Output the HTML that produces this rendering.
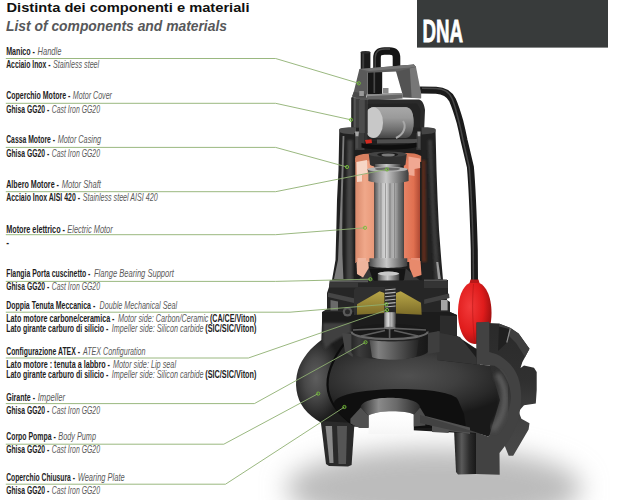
<!DOCTYPE html>
<html><head><meta charset="utf-8"><title>DNA - Distinta dei componenti e materiali</title>
<style>
html,body{margin:0;padding:0;background:#fff;}
body{width:618px;height:500px;overflow:hidden;font-family:"Liberation Sans",sans-serif;}
svg{display:block}
text{font-family:"Liberation Sans",sans-serif;}
.b{font-weight:bold;font-size:10.3px;fill:#1d1d1d;}
.i{font-style:italic;font-size:10.3px;fill:#5a5a5a;}
.t1{font-weight:bold;font-size:13.5px;fill:#111;}
.t2{font-weight:bold;font-style:italic;font-size:13.9px;fill:#57585a;}
.dna{font-weight:bold;font-size:32px;fill:#fff;stroke:#fff;stroke-width:0.8px;}
.lead polyline{fill:none;stroke:#8fb072;stroke-width:0.9;}
.lead circle{fill:none;stroke:#74c236;stroke-width:0.9;}
</style></head>
<body>
<svg width="618" height="500" viewBox="0 0 618 500">
<rect width="618" height="500" fill="#fff"/>
<defs>
  <filter id="blur10" x="-30%" y="-80%" width="160%" height="260%"><feGaussianBlur stdDeviation="13"/></filter>
  <filter id="blur2" x="-20%" y="-20%" width="140%" height="140%"><feGaussianBlur stdDeviation="2"/></filter>
  <filter id="blur1" x="-20%" y="-20%" width="140%" height="140%"><feGaussianBlur stdDeviation="1"/></filter>
  <filter id="blur05" x="-20%" y="-20%" width="140%" height="140%"><feGaussianBlur stdDeviation="0.5"/></filter>
  <linearGradient id="gCasing" x1="0" x2="1" y1="0" y2="0">
    <stop offset="0" stop-color="#161616"/>
    <stop offset="0.035" stop-color="#3a3a3a"/>
    <stop offset="0.06" stop-color="#8a8a8a"/>
    <stop offset="0.085" stop-color="#2c2c2c"/>
    <stop offset="0.12" stop-color="#1e1e1e"/>
    <stop offset="0.16" stop-color="#2a2a2a"/>
    <stop offset="0.8" stop-color="#222"/>
    <stop offset="0.9" stop-color="#2e2e2e"/>
    <stop offset="0.96" stop-color="#262626"/>
    <stop offset="1" stop-color="#141414"/>
  </linearGradient>
  <linearGradient id="gRotor" x1="0" x2="1" y1="0" y2="0">
    <stop offset="0" stop-color="#4e4e4e"/>
    <stop offset="0.1" stop-color="#8a8a8a"/>
    <stop offset="0.26" stop-color="#c4c4c4"/>
    <stop offset="0.4" stop-color="#d8d8d8"/>
    <stop offset="0.52" stop-color="#a0a0a0"/>
    <stop offset="0.66" stop-color="#b4b4b4"/>
    <stop offset="0.82" stop-color="#808080"/>
    <stop offset="1" stop-color="#484848"/>
  </linearGradient>
  <linearGradient id="gRing" x1="0" x2="1" y1="0" y2="0">
    <stop offset="0" stop-color="#4a4a4a"/>
    <stop offset="0.2" stop-color="#8c8c8c"/>
    <stop offset="0.45" stop-color="#c8c8c8"/>
    <stop offset="0.7" stop-color="#8a8a8a"/>
    <stop offset="1" stop-color="#3e3e3e"/>
  </linearGradient>
  <linearGradient id="gCopperL" x1="0" x2="1" y1="0" y2="0">
    <stop offset="0" stop-color="#d98a6c"/>
    <stop offset="0.5" stop-color="#f0a88a"/>
    <stop offset="1" stop-color="#e89878"/>
  </linearGradient>
  <linearGradient id="gCopperR" x1="0" x2="1" y1="0" y2="0">
    <stop offset="0" stop-color="#e88466"/>
    <stop offset="0.6" stop-color="#e07050"/>
    <stop offset="1" stop-color="#b04a34"/>
  </linearGradient>
  <linearGradient id="gCap" x1="0" x2="0" y1="0" y2="1">
    <stop offset="0" stop-color="#a8a8a8"/>
    <stop offset="0.35" stop-color="#9a9a9a"/>
    <stop offset="0.75" stop-color="#6c6c6c"/>
    <stop offset="1" stop-color="#444"/>
  </linearGradient>
  <linearGradient id="gCable" x1="0" x2="1" y1="0" y2="0">
    <stop offset="0" stop-color="#111"/>
    <stop offset="0.4" stop-color="#3c3c3c"/>
    <stop offset="1" stop-color="#0c0c0c"/>
  </linearGradient>
  <radialGradient id="gFloat" cx="0.35" cy="0.4" r="0.75">
    <stop offset="0" stop-color="#f23a3a"/>
    <stop offset="0.55" stop-color="#e01c1c"/>
    <stop offset="1" stop-color="#8c0c0c"/>
  </radialGradient>
  <radialGradient id="gVolute" cx="0.3" cy="0.3" r="0.9">
    <stop offset="0" stop-color="#5a5a5a"/>
    <stop offset="0.4" stop-color="#3a3a3a"/>
    <stop offset="1" stop-color="#161616"/>
  </radialGradient>
  <linearGradient id="gLeg" x1="0" x2="1" y1="0" y2="0">
    <stop offset="0" stop-color="#1e1e1e"/>
    <stop offset="0.35" stop-color="#5a5a5a"/>
    <stop offset="0.7" stop-color="#2c2c2c"/>
    <stop offset="1" stop-color="#181818"/>
  </linearGradient>
</defs>

<!-- ground shadow -->
<ellipse cx="434" cy="488" rx="148" ry="40" fill="#bcbcbc" filter="url(#blur10)"/>

<!-- cable -->
<path d="M420,90 L436,90.2 C444,90.5 449,93 452.5,100 C456,108 458,115 460,122 C462,130 463,135 464,140 L470.4,167 C472,185 473.3,215 474.3,250 L474.5,282" fill="none" stroke="#1a1a1a" stroke-width="7" stroke-linecap="butt"/>
<path d="M422,88.3 L436,88.5 C444,88.8 449,91.5 452,98.5 C455.5,106.5 457,115 459,122 C461,130 462,135 463,140 L469.2,167 C470.8,185 472.3,215 473.2,250 L473.4,280" fill="none" stroke="#474747" stroke-width="1.5" filter="url(#blur05)"/>
<!-- float -->
<path d="M474.5,281.5 C486,282.5 491.5,297 491.5,313 C491.5,330 485,344 475,344 C465,344 458,330 458,313 C458,297 463,282.5 474.5,281.5 Z" fill="url(#gFloat)"/>
<path d="M473.5,284 C472,300 472.5,328 475,343" fill="none" stroke="#b01414" stroke-width="0.8" opacity="0.7"/>
<path d="M470.5,279.5 L478.5,279.5 L479.5,283 L469.5,283 Z" fill="#b81818"/>

<!-- handle -->
<path d="M377,94 L377,58 C377,52 380,51 384.5,51 L389.5,51 C394.5,51 396.5,53 396.5,58 L396.5,70" fill="none" stroke="#151515" stroke-width="7.6"/>
<path d="M375.2,90 L375.2,58 C375.2,50.5 379.5,49 384.5,49 L390,49" fill="none" stroke="#484848" stroke-width="1.3" filter="url(#blur05)"/>
<rect x="367.8" y="71" width="14.4" height="23.5" fill="#161616"/>
<rect x="373.5" y="72" width="1.6" height="21" fill="#4a4a4a" filter="url(#blur05)"/>
<!-- gland -->
<rect x="360.7" y="52" width="9.7" height="18" fill="#1a1a1a"/>
<rect x="362.2" y="52" width="2" height="18" fill="#3c3c3c" filter="url(#blur05)"/>
<ellipse cx="365.5" cy="52.2" rx="4.85" ry="1.3" fill="#2c2c2c"/>

<!-- bracket -->
<!-- left leg -->
<path d="M359.4,69.1 L367.8,69.1 L367.8,93.4 L366,95.8 L366,100.7 L352.1,96.6 L353.8,91.8 Z" fill="#5a5a5a"/>
<path d="M353.8,91.8 L366,94 L366,100.7 L352.1,96.6 Z" fill="#4a4a4a"/>
<!-- right leg -->
<path d="M395.8,70.7 L396.5,66 L414,64.8 L421,93.4 L421,98.3 L402.3,97.5 L402.3,93.4 Z" fill="#535353"/>
<path d="M409.6,65.8 L413.8,64.6 L416,67 L421.2,93.4 L421.2,98.3 L411.6,97.9 Z" fill="#777"/>
<!-- top bar -->
<path d="M359.4,69 L413.8,64.6 L416,67 L397,71.6 L367.8,72.8 Z" fill="#5e5e5e"/>
<path d="M359.4,69 L413.8,64.6 L416,67 L369,71 Z" fill="#747474"/>
<!-- bolt in opening -->
<rect x="383" y="88" width="5.5" height="5.5" fill="#8a8a8a"/>
<!-- base plate -->
<path d="M366.5,94.6 L402,93 L402.6,98.6 L366.5,100.8 Z" fill="#666"/>
<path d="M366.5,94.6 L402,93 L402.1,94.6 L366.6,96.2 Z" fill="#909090"/>
<!-- bolt on bracket -->
<rect x="359.3" y="91" width="4.6" height="5" fill="#9a9a9a"/>

<!-- motor cover -->
<path d="M352,97 L366,100.5 L369,99.6 L419,99.4 C422.5,100 424.5,105 425,110 L424,133 L351.5,133 Z" fill="#2a2a2a"/>
<rect x="351.4" y="97.5" width="16" height="36" fill="#565656"/>
<rect x="351.4" y="97.5" width="2.2" height="36" fill="#2a2a2a"/>
<rect x="355.8" y="99" width="4" height="33" fill="#3e3e3e"/>
<!-- cover inner -->
<path d="M364.5,104 L417,103.5 L420.5,110 L419.5,140 L364.5,140 Z" fill="#242424"/>
<!-- capacitor -->
<path d="M373.5,107.2 L406,107.2 C412,107.7 413.5,115 413.5,122.5 C413.5,131 411.5,137.5 406,138 L373.5,138 Z" fill="url(#gCap)"/>
<ellipse cx="373.4" cy="122.7" rx="9.6" ry="15.4" fill="#c8c8c8"/>
<path d="M403,121 C406.5,126 404.5,134 396,138" fill="none" stroke="#a8a8a8" stroke-width="2"/>

<!-- casing body -->
<path d="M339.3,129.5 C339.3,126.5 435.5,126.5 435.5,129.5 L436.5,170 L437.6,200 L439,230 L441.3,260 L443,279.8 L448,280 L448,298 L328,298 L329.6,290 L329.6,280.5 L332,280 L335.5,260 L336.3,230 L337,200 L338.5,170 Z" fill="#212121"/>
<!-- left highlight stripe -->
<path d="M342.6,136 L344.4,136 L343.5,170 L342.6,200 L342.2,230 L342.4,255 L343.4,279 L334,279 L338,260 L339.3,230 L340.6,200 L341.6,170 Z" fill="#7c7c7c" filter="url(#blur05)"/>
<path d="M347.5,140 L352.5,140 L352,200 L353,282 L346.5,282 L346.5,200 Z" fill="#444" filter="url(#blur1)"/>
<!-- right side soft highlight -->
<path d="M428,140 L432,140 L434.5,200 L440,282 L435,282 L430.5,200 Z" fill="#3a3a3a" filter="url(#blur1)"/>
<path d="M421.5,160 L425.5,160 L426.5,262 L421.5,262 Z" fill="#5a2a1c" filter="url(#blur1)"/>
<path d="M436.2,262 L438.3,262 L440.8,279 L438,279 Z" fill="#9a9a9a" filter="url(#blur05)"/>
<!-- casing top rim -->
<path d="M339.3,129.5 C339.3,126.8 356,127.3 356,127.3 L356,134.5 C345,134 339.6,133 339.4,131.5 Z" fill="#4e4e4e"/>
<path d="M435.5,129.5 C435.5,126.8 421.5,127.3 421.5,127.3 L421.5,134.5 C430,134 435.3,133 435.4,131.5 Z" fill="#444"/>

<!-- cutaway interior -->
<path d="M354,133 L421.5,133 L421.5,290 L354,290 Z" fill="#1e1e1e"/>
<!-- cover lower part inside -->
<path d="M364.5,133 L419.8,133 L419.5,141 L364.5,141 Z" fill="#242424"/>
<path d="M373.5,107.2 L406,107.2 C412,107.7 413.5,115 413.5,122.5 C413.5,131 411.5,137.5 406,138 L373.5,138 Z" fill="url(#gCap)"/>
<ellipse cx="373.4" cy="122.7" rx="9.6" ry="15.4" fill="#c8c8c8"/>
<path d="M403,121 C406.5,126 404.5,134 396,138" fill="none" stroke="#a8a8a8" stroke-width="2"/>
<!-- cover column over capacitor -->
<rect x="359" y="100" width="8.5" height="33" fill="#4c4c4c"/>
<rect x="364.8" y="100" width="2.7" height="40" fill="#333"/>
<rect x="355" y="133" width="9.5" height="17" fill="#3c3c3c"/>
<rect x="416.3" y="133" width="4.8" height="17" fill="#383838"/>
<!-- screws -->
<path d="M355,131.5 L359,131.5 L358.4,136.5 L355.6,136.5 Z" fill="#a8a8a8"/>
<path d="M417.3,131.5 L420.6,131.5 L420.2,136.5 L417.8,136.5 Z" fill="#a8a8a8"/>
<rect x="355.8" y="136.5" width="2.4" height="12" fill="#4a4a4a"/>
<rect x="417.8" y="136.5" width="2.4" height="12" fill="#4a4a4a"/>
<!-- red bit -->
<path d="M365,140 L371.5,139.3 L372,143 L366,143.8 Z" fill="#d42a20"/>
<!-- top plate -->
<path d="M377,139.5 L417.5,139 L417.5,143 L377,143.5 Z" fill="#4e4e4e"/>
<path d="M361.5,143 C372,146 404,146 416.5,142.5 L416.5,147 C404,150.5 372,150.5 361.5,147.5 Z" fill="#0e0e0e"/>

<!-- stator copper -->
<path d="M355.3,158 L374.4,156 L374.4,263 L355.3,263 Z" fill="url(#gCopperL)"/>
<path d="M403.8,156 L420,158 L420,263 L403.8,263 Z" fill="url(#gCopperR)"/>
<path d="M355.3,156.5 C361,153.7 368,153.3 374.4,153.5 L374.4,160 L355.3,162 Z" fill="#d88060"/>
<path d="M404,153 C410,152.8 416,153 421.2,156 L421.2,162 L404,160 Z" fill="#d87858"/>
<!-- windings top -->
<path d="M356.5,162 L367,160 L367.5,173 L362,175 L362,181.5 L357,182 Z" fill="#f6d6c6"/>
<path d="M408.5,156.5 L420,158.5 L420.2,168 L414.5,169 L414.5,176 L408.5,175 Z" fill="#f0a892"/>
<!-- windings bottom -->
<path d="M357.5,258 L366,258 L366,266 L357.5,266 Z" fill="#f0b6a0"/>
<path d="M411,258 L420,258 L420,266 L411,266 Z" fill="#e89078"/>

<!-- bearing housing top -->
<path d="M368.8,154 L406.7,154 L405.5,164.5 C404,168.5 371,168.5 370,164.5 Z" fill="#303030"/>
<ellipse cx="387.7" cy="154.3" rx="19" ry="2.8" fill="#444"/>
<ellipse cx="387.7" cy="154.6" rx="10.5" ry="2.2" fill="#1c1c1c"/>
<ellipse cx="388.2" cy="155" rx="6.8" ry="1.6" fill="#7a7a7a"/>
<!-- shaft neck -->
<rect x="375" y="164" width="25.5" height="6" fill="url(#gRing)"/>
<!-- rotor -->
<rect x="374.4" y="176" width="29.4" height="86" fill="url(#gRotor)"/>
<g stroke="#6c6c6c" stroke-width="0.7" opacity="0.75">
<line x1="377" y1="181" x2="377" y2="258"/><line x1="381" y1="181" x2="381" y2="258"/><line x1="385.5" y1="181" x2="385.5" y2="258"/><line x1="390" y1="181" x2="390" y2="258"/><line x1="394.5" y1="181" x2="394.5" y2="258"/><line x1="399" y1="181" x2="399" y2="258"/>
</g>
<!-- top ring -->
<path d="M367.5,169 L407.5,169 L408.6,173 L408.6,181 C400,184 376,184 368.4,181 L368.4,173 Z" fill="url(#gRing)"/>
<ellipse cx="387.5" cy="169.3" rx="20" ry="2.5" fill="#b4b4b4"/>
<ellipse cx="387.5" cy="169" rx="12.5" ry="1.6" fill="#6a6a6a"/>

<!-- ===== lower section ===== -->
<defs>
  <radialGradient id="gVolOuter" gradientUnits="userSpaceOnUse" cx="0" cy="0" r="1" gradientTransform="translate(316,378) scale(26,44)">
    <stop offset="0" stop-color="#5e5e5e"/>
    <stop offset="0.45" stop-color="#484848"/>
    <stop offset="0.8" stop-color="#2c2c2c"/>
    <stop offset="1" stop-color="#1c1c1c"/>
  </radialGradient>
  <radialGradient id="gVolInner" gradientUnits="userSpaceOnUse" cx="0" cy="0" r="1" gradientTransform="translate(408,376) scale(112,42)">
    <stop offset="0" stop-color="#505050"/>
    <stop offset="0.45" stop-color="#3f3f3f"/>
    <stop offset="0.8" stop-color="#292929"/>
    <stop offset="1" stop-color="#191919"/>
  </radialGradient>
  <linearGradient id="gCollar" x1="0" x2="1" y1="0" y2="0">
    <stop offset="0" stop-color="#2a2a2a"/>
    <stop offset="0.3" stop-color="#8a8a8a"/>
    <stop offset="0.6" stop-color="#6a6a6a"/>
    <stop offset="1" stop-color="#2a2a2a"/>
  </linearGradient>
  <linearGradient id="gImp" x1="0" x2="1" y1="0" y2="0">
    <stop offset="0" stop-color="#4e4e4e"/>
    <stop offset="0.18" stop-color="#808080"/>
    <stop offset="0.5" stop-color="#5c5c5c"/>
    <stop offset="0.85" stop-color="#363636"/>
    <stop offset="1" stop-color="#242424"/>
  </linearGradient>
  <linearGradient id="gPipe" x1="0" x2="0" y1="0" y2="1">
    <stop offset="0" stop-color="#161616"/>
    <stop offset="0.3" stop-color="#3a3a3a"/>
    <stop offset="0.55" stop-color="#2c2c2c"/>
    <stop offset="1" stop-color="#0e0e0e"/>
  </linearGradient>
  <linearGradient id="gImpBody" x1="0" x2="1" y1="0" y2="0">
    <stop offset="0" stop-color="#262626"/>
    <stop offset="0.1" stop-color="#3c3c3c"/>
    <stop offset="0.25" stop-color="#2a2a2a"/>
    <stop offset="0.8" stop-color="#222"/>
    <stop offset="1" stop-color="#181818"/>
  </linearGradient>
  <linearGradient id="gUnder" x1="0" x2="0" y1="0" y2="1">
    <stop offset="0" stop-color="#ffffff"/>
    <stop offset="0.6" stop-color="#fbfbfb"/>
    <stop offset="1" stop-color="#f6f6f6"/>
  </linearGradient>
  <linearGradient id="gFlange" gradientUnits="userSpaceOnUse" x1="0" x2="0" y1="322" y2="456">
    <stop offset="0" stop-color="#2a2a2a"/>
    <stop offset="0.45" stop-color="#303030"/>
    <stop offset="0.75" stop-color="#424242"/>
    <stop offset="1" stop-color="#484848"/>
  </linearGradient>
  <linearGradient id="gYellow" x1="0" x2="0" y1="0" y2="1">
    <stop offset="0" stop-color="#b8a648"/>
    <stop offset="1" stop-color="#7c6c28"/>
  </linearGradient>
</defs>

<!-- bearing cup area inside casing bottom -->
<path d="M356,262 L421.5,262 L421.5,290 L356,290 Z" fill="#1c1c1c"/>
<path d="M354,285 L368.7,268.5 L406,268.5 L425,285 L425,288 L354,288 Z" fill="#383838"/>
<path d="M369,268.6 L405.7,268.6 L404,280 C398,286 378,286 373,280 Z" fill="#151515"/>
<!-- bottom ring -->
<path d="M369.4,258.3 L407.3,258.3 L407.3,266 C400,268.5 376,268.5 369.4,266 Z" fill="url(#gRing)"/>
<!-- lower windings -->
<path d="M356.5,262 L368.2,260.5 L368.8,268 L363,277.5 L357,274 Z" fill="#efb49c"/>
<path d="M409,259 L420.5,261 L421.5,275 L413.5,277.5 L409.5,268 Z" fill="#e88a6c"/>
<!-- bearing -->
<path d="M377.8,273.5 C377.8,271 399.3,271 399.3,273.5 L399.3,281.5 C399.3,284.6 377.8,284.6 377.8,281.5 Z" fill="url(#gRing)"/>
<ellipse cx="388.5" cy="273.6" rx="10.7" ry="2" fill="#c8c8c8"/>

<!-- casing flange / seal housing -->
<path d="M330,281 L445.7,280 L448,281 L448,290 L446.5,291 L447,300 L450,302 L450,312 L457,315 L457,334 L322,334 L322,312 L327,309 L327,293 L329,287 Z" fill="#262626"/>
<path d="M330,280.3 L368,280.3 L368,282.3 L330,282.3 Z" fill="#5a5a5a"/>
<path d="M330,282.3 L358,282.3 L358,287.5 L329,287.5 Z" fill="#383838"/>
<path d="M424,279.5 L447,279.5 L447,281.3 L424,281.3 Z" fill="#505050"/>
<path d="M424,281.3 L448,281.3 L448,288 L424,288 Z" fill="#343434"/>
<path d="M328,292.4 L358.5,299.2 L358.5,304 L328,297 Z" fill="#464646"/>
<path d="M330.5,300 L338,301.5 L338,310.5 L330.5,310.5 Z" fill="#6a6a6a" filter="url(#blur05)"/>
<path d="M424.2,299.5 L449,293.5 L449.5,298 L424.2,304 Z" fill="#404040"/>
<path d="M441,300 L447.6,300 L447.6,310.4 L441,310.4 Z" fill="#a4a4a4"/>
<!-- volute body -->
<path d="M322.5,312 L321.4,340 C311,347.5 302,358 298,370 C294,383 296,398 304,408.5 C309,414.5 314,418.5 320.8,422.5 L340,426 L480,432 L480,350 L475,348 L457,336 L457,315 L450,312 Z" fill="url(#gVolOuter)"/>
<path d="M323,323 L351,323 L351,333 C340,337 331,343 325,349 L322.6,340 Z" fill="#404040" filter="url(#blur1)"/>
<!-- inner chamber walls -->
<path d="M356,287 L386,287 L386,291.2 L379.6,291.2 L357,304.3 L357,314.8 L354,315 L354,290 Z" fill="#303030"/>
<!-- yellow oil chamber -->
<path d="M379.6,291.3 L384.5,293 L384.5,313 L357,314.8 L357,304.3 Z" fill="url(#gYellow)"/>
<path d="M396,293 L400.7,291.3 L421,302.7 L421.7,314.8 L396,313.5 Z" fill="url(#gYellow)"/>
<!-- spring / seal -->
<rect x="384.8" y="286.5" width="11" height="22" fill="#2a2a2a"/>
<g stroke="#b4b4b4" stroke-width="1.1">
<line x1="385" y1="290" x2="395.6" y2="289"/><line x1="385" y1="293.4" x2="395.6" y2="292.4"/><line x1="385" y1="296.8" x2="395.6" y2="295.8"/><line x1="385" y1="300.2" x2="395.6" y2="299.2"/><line x1="385" y1="303.6" x2="395.6" y2="302.6"/><line x1="385" y1="307" x2="395.6" y2="306"/>
</g>
<!-- shaft lower -->
<rect x="384" y="312.4" width="11.6" height="11.3" fill="url(#gRotor)"/>
<!-- plug -->
<circle cx="347.5" cy="311.8" r="4.8" fill="#5a5a5a"/>
<circle cx="347.5" cy="311.8" r="2.5" fill="#2a2a2a"/>

<!-- legs -->
<path d="M320.7,421 L354.5,423 L351.6,465 L348,466.5 L329,466 L326,464 Z" fill="#2a2a2a"/>
<path d="M325.5,426 L332,426 L333.5,463 L329.5,463 Z" fill="#8a8a8a" filter="url(#blur05)"/>
<path d="M337,426 L347,426 L346,464 L338.5,464 Z" fill="#545454" filter="url(#blur05)"/>
<path d="M454,429 L476,430 L476,474 L458,474.5 L456,472 Z" fill="url(#gLeg)"/>
<!-- interior cavity -->
<path d="M353,333 C338,350 327,368 327.5,385 C328,402 338,414 353,424.5 L372,428 L480,434 L488,436.5 C499,430 510,415 511,398 C510.5,382 503,370 494.4,365.8 L476.7,364.5 L437,360 L437,334 Z" fill="url(#gVolInner)"/>
<!-- cut edge left -->
<path d="M353,333 C338,350 327,368 327.5,385 C328,402 338,414 353,424.5" fill="none" stroke="#0c0c0c" stroke-width="2.2"/>
<!-- volute top cut face -->
<path d="M437,331 L460,337 L476.5,358 L476.7,364.5 L437,360 Z" fill="#353535"/>
<path d="M440,315.5 L457,316 L457,336 L440,333 Z" fill="#2c2c2c"/>

<!-- wearing plate -->
<path d="M334,403 C336,386 450,384 458,400 L464,414 L466,428 L372,428 L353,424.5 C340,416 335,410 334,403 Z" fill="#0f0f0f"/>
<!-- collar back wall -->
<path d="M360.7,407.5 C360.7,394.5 420,394.5 420,407.5 L413.8,414.5 C405,410 377,410 368.5,415.5 Z" fill="url(#gCollar)"/>
<!-- opening under -->
<path d="M368.5,415.5 C377,410 405,410 413.8,414.5 L413.8,434 L368.5,434 Z" fill="url(#gUnder)"/>
<!-- bottom section faces -->
<path d="M350.4,418.8 L360.7,407.5 L368.5,415.5 L368.5,428 L359.4,428 L350.4,423.5 Z" fill="#505050"/>
<path d="M413.8,414.5 L420,407.5 L425.4,416.2 L425.4,425.5 L413.8,426.6 Z" fill="#4c4c4c"/>
<path d="M425.4,416 L470,427.5 L470,434 L448.7,431 L448.7,433 L432,432 L432,425.5 L425.4,424 Z" fill="#525252"/>

<!-- impeller -->
<!-- cut wall columns beside impeller -->
<path d="M342,333 L352.7,334 L352.7,357 L345,352 Z" fill="#454545"/>
<path d="M427.8,333 L439.5,331 L439.5,352 L427.8,354 Z" fill="#3e3e3e"/>
<!-- body -->
<path d="M351.4,331.5 L427.8,331.5 L427.8,352 C420,361.5 360,362 351.4,353 Z" fill="url(#gImpBody)"/>
<!-- recess -->
<ellipse cx="389.6" cy="331.5" rx="38.2" ry="7.6" fill="#191919"/>
<g stroke="#5e5e5e" stroke-width="1.7">
<line x1="389.6" y1="324.2" x2="389.6" y2="338.5"/>
<line x1="353" y1="330" x2="385" y2="328.3"/>
<line x1="426" y1="330" x2="394" y2="328.3"/>
<line x1="361" y1="336" x2="385" y2="330.5"/>
<line x1="418" y1="336" x2="394" y2="330.5"/>
</g>
<!-- front rim -->
<path d="M351.4,331.5 C352,341.5 427,341.5 427.8,331.5" fill="none" stroke="#666" stroke-width="2.2"/>
<!-- hub -->
<path d="M369.5,340 C380,342 405,342 418.7,339.5 L416.5,356 C410,360.8 378,360.8 372,357 Z" fill="url(#gImp)"/>
<rect x="384" y="312.4" width="11.6" height="15.6" fill="url(#gRotor)"/>
<ellipse cx="389.8" cy="328" rx="5.8" ry="1.3" fill="#777"/>

<!-- discharge flange -->
<path d="M476.5,322.6 L498.8,323.5 L510.5,328 L518.6,333.4 L529.5,348.7 L522.3,362.3 L520.5,368 L524,365.5 L534,367.7 L536.7,372 L536.7,390 L535.8,403.5 L524,405.3 L518.6,411.6 L521.4,418.8 L529.5,423.3 L528.6,429.6 L513.2,455.8 L508.7,455.8 L504,444 L497,452 L488,440 L500,400 L489,362 L476.5,358 Z" fill="url(#gFlange)"/>
<!-- flange top face -->
<path d="M498.8,323.5 L510.5,328 L518.6,333.4 L529.5,348.7 L525,357 L516,343 L507,334 L499.5,330.5 Z" fill="#3f3f3f"/>
<path d="M499,326.5 L509.5,329 L506,343.5 L498,351 Z" fill="#202020"/>
<path d="M510.3,328.5 L506.8,342.5" stroke="#8e8e8e" stroke-width="1.1" fill="none"/>
<!-- cut face: column + band around pipe end + bottom wall + leg section -->
<path d="M476.5,322.6 L489.3,321.8 L489.3,352 L496,354 C505,358 514,366 518,377 C522.5,390 522,405 518,420 C514,434 507,444 499.5,453 L499.7,474.7 L476,474 L476,433 L455,431 L420,423 L420,415 L474.6,431.8 L488,436.5 C499,430 510,415 511,398 C510.5,382 503,370 494.4,365.8 L476.7,364.5 Z" fill="#424242"/>
<path d="M497,374 C503.5,382 506,393 504.5,405 C503,415 498.5,423 492.5,430" fill="none" stroke="#5c5c5c" stroke-width="6" filter="url(#blur2)"/>

<rect x="417" y="0" width="191" height="47.6" fill="#383b3b"/>
<text x="422.4" y="42.2" class="dna" textLength="40.6" lengthAdjust="spacingAndGlyphs">DNA</text>
<text x="6.5" y="11.7" class="t1" textLength="243" lengthAdjust="spacingAndGlyphs">Distinta dei componenti e materiali</text>
<text x="6.0" y="30.9" class="t2" textLength="221" lengthAdjust="spacingAndGlyphs">List of components and materials</text>
<g class="lead">
<polyline points="5.8,58.5 275.6,58.5 358.8,83.3"/>
<circle cx="358.8" cy="83.3" r="1.6"/>
<polyline points="5.8,103.3 275.6,103.3 351,119.8"/>
<circle cx="351" cy="119.8" r="1.6"/>
<polyline points="5.8,147.4 275.6,147.4 347,167"/>
<circle cx="347" cy="167" r="1.6"/>
<polyline points="5.8,191.7 275.6,191.7 387,169.4"/>
<circle cx="387" cy="169.4" r="1.6"/>
<polyline points="5.8,234.7 275.6,234.7 365,227.8"/>
<circle cx="365" cy="227.8" r="1.6"/>
<polyline points="5.8,281.4 275.6,281.4 370.3,279.2"/>
<circle cx="370.3" cy="279.2" r="1.6"/>
<polyline points="5.8,312.2 290,312.2 386.3,304.3"/>
<circle cx="386.3" cy="304.3" r="1.6"/>
<polyline points="5.8,358 248.4,358 387,310"/>
<circle cx="387" cy="310" r="1.6"/>
<polyline points="5.8,403.6 254.4,403.6 365.5,342.3"/>
<circle cx="365.5" cy="342.3" r="1.6"/>
<polyline points="5.8,444.2 223.8,444.2 318.2,393.6"/>
<circle cx="318.2" cy="393.6" r="1.6"/>
<polyline points="5.8,484.2 225.5,484.2 344.4,407"/>
<circle cx="344.4" cy="407" r="1.6"/>
</g>
<text x="6.2" y="54.7" class="b" textLength="28.8" lengthAdjust="spacingAndGlyphs">Manico -</text>
<text x="37.5" y="54.7" class="i" textLength="23.9" lengthAdjust="spacingAndGlyphs">Handle</text>
<text x="6.2" y="68.0" class="b" textLength="44.3" lengthAdjust="spacingAndGlyphs">Acciaio Inox -</text>
<text x="53" y="68.0" class="i" textLength="46.2" lengthAdjust="spacingAndGlyphs">Stainless steel</text>
<text x="6.2" y="99.1" class="b" textLength="64.2" lengthAdjust="spacingAndGlyphs">Coperchio Motore -</text>
<text x="72.8" y="99.1" class="i" textLength="39.2" lengthAdjust="spacingAndGlyphs">Motor Cover</text>
<text x="6.2" y="112.5" class="b" textLength="43.0" lengthAdjust="spacingAndGlyphs">Ghisa GG20 -</text>
<text x="51.8" y="112.5" class="i" textLength="48.2" lengthAdjust="spacingAndGlyphs">Cast Iron GG20</text>
<text x="6.2" y="143.4" class="b" textLength="48.8" lengthAdjust="spacingAndGlyphs">Cassa Motore -</text>
<text x="57.7" y="143.4" class="i" textLength="43.3" lengthAdjust="spacingAndGlyphs">Motor Casing</text>
<text x="6.2" y="156.6" class="b" textLength="43.0" lengthAdjust="spacingAndGlyphs">Ghisa GG20 -</text>
<text x="51.8" y="156.6" class="i" textLength="48.2" lengthAdjust="spacingAndGlyphs">Cast Iron GG20</text>
<text x="6.2" y="187.7" class="b" textLength="52.8" lengthAdjust="spacingAndGlyphs">Albero Motore -</text>
<text x="61.7" y="187.7" class="i" textLength="39.3" lengthAdjust="spacingAndGlyphs">Motor Shaft</text>
<text x="6.2" y="201.2" class="b" textLength="73.8" lengthAdjust="spacingAndGlyphs">Acciaio Inox AISI 420 -</text>
<text x="82.7" y="201.2" class="i" textLength="75.0" lengthAdjust="spacingAndGlyphs">Stainless steel AISI 420</text>
<text x="6.2" y="232.6" class="b" textLength="58.8" lengthAdjust="spacingAndGlyphs">Motore elettrico -</text>
<text x="67.3" y="232.6" class="i" textLength="45.4" lengthAdjust="spacingAndGlyphs">Electric Motor</text>
<text x="6.2" y="245.8" class="b" textLength="2.8" lengthAdjust="spacingAndGlyphs">-</text>
<text x="6.2" y="276.7" class="b" textLength="84.2" lengthAdjust="spacingAndGlyphs">Flangia Porta cuscinetto -</text>
<text x="94" y="276.7" class="i" textLength="79.9" lengthAdjust="spacingAndGlyphs">Flange Bearing Support</text>
<text x="6.2" y="290.4" class="b" textLength="43.0" lengthAdjust="spacingAndGlyphs">Ghisa GG20 -</text>
<text x="51.8" y="290.4" class="i" textLength="48.2" lengthAdjust="spacingAndGlyphs">Cast Iron GG20</text>
<text x="6.2" y="308.5" class="b" textLength="89.0" lengthAdjust="spacingAndGlyphs">Doppia Tenuta Meccanica -</text>
<text x="99.6" y="308.5" class="i" textLength="77.4" lengthAdjust="spacingAndGlyphs">Double Mechanical Seal</text>
<text x="6.2" y="321.9" class="b" textLength="108.3" lengthAdjust="spacingAndGlyphs">Lato motore carbone/ceramica -</text>
<text x="118" y="321.9" class="i" textLength="90.4" lengthAdjust="spacingAndGlyphs">Motor side: Carbon/Ceramic</text>
<text x="210" y="321.9" class="b" textLength="46.4" lengthAdjust="spacingAndGlyphs">(CA/CE/Viton)</text>
<text x="6.2" y="332" class="b" textLength="102.1" lengthAdjust="spacingAndGlyphs">Lato girante carburo di silicio -</text>
<text x="111.8" y="332" class="i" textLength="91.8" lengthAdjust="spacingAndGlyphs">Impeller side: Silicon carbide</text>
<text x="205.3" y="332" class="b" textLength="51.1" lengthAdjust="spacingAndGlyphs">(SIC/SIC/Viton)</text>
<text x="6.2" y="354.8" class="b" textLength="73.8" lengthAdjust="spacingAndGlyphs">Configurazione ATEX -</text>
<text x="83" y="354.8" class="i" textLength="62.5" lengthAdjust="spacingAndGlyphs">ATEX Configuration</text>
<text x="6.2" y="367.8" class="b" textLength="103.8" lengthAdjust="spacingAndGlyphs">Lato motore : tenuta a labbro -</text>
<text x="113" y="367.8" class="i" textLength="63" lengthAdjust="spacingAndGlyphs">Motor side: Lip seal</text>
<text x="6.2" y="378" class="b" textLength="102.1" lengthAdjust="spacingAndGlyphs">Lato girante carburo di silicio -</text>
<text x="111.8" y="378" class="i" textLength="91.8" lengthAdjust="spacingAndGlyphs">Impeller side: Silicon carbide</text>
<text x="205.3" y="378" class="b" textLength="51.1" lengthAdjust="spacingAndGlyphs">(SIC/SIC/Viton)</text>
<text x="6.2" y="400.7" class="b" textLength="28.8" lengthAdjust="spacingAndGlyphs">Girante -</text>
<text x="37.7" y="400.7" class="i" textLength="27.3" lengthAdjust="spacingAndGlyphs">Impeller</text>
<text x="6.2" y="413.9" class="b" textLength="43.0" lengthAdjust="spacingAndGlyphs">Ghisa GG20 -</text>
<text x="51.8" y="413.9" class="i" textLength="48.2" lengthAdjust="spacingAndGlyphs">Cast Iron GG20</text>
<text x="6.2" y="440.3" class="b" textLength="49.5" lengthAdjust="spacingAndGlyphs">Corpo Pompa -</text>
<text x="58.3" y="440.3" class="i" textLength="37.7" lengthAdjust="spacingAndGlyphs">Body Pump</text>
<text x="6.2" y="453.2" class="b" textLength="43.0" lengthAdjust="spacingAndGlyphs">Ghisa GG20 -</text>
<text x="51.8" y="453.2" class="i" textLength="48.2" lengthAdjust="spacingAndGlyphs">Cast Iron GG20</text>
<text x="6.2" y="480.7" class="b" textLength="68.8" lengthAdjust="spacingAndGlyphs">Coperchio Chiusura -</text>
<text x="77.7" y="480.7" class="i" textLength="47.0" lengthAdjust="spacingAndGlyphs">Wearing Plate</text>
<text x="6.2" y="493.5" class="b" textLength="43.0" lengthAdjust="spacingAndGlyphs">Ghisa GG20 -</text>
<text x="51.8" y="493.5" class="i" textLength="48.2" lengthAdjust="spacingAndGlyphs">Cast Iron GG20</text>
</svg>
</body></html>
